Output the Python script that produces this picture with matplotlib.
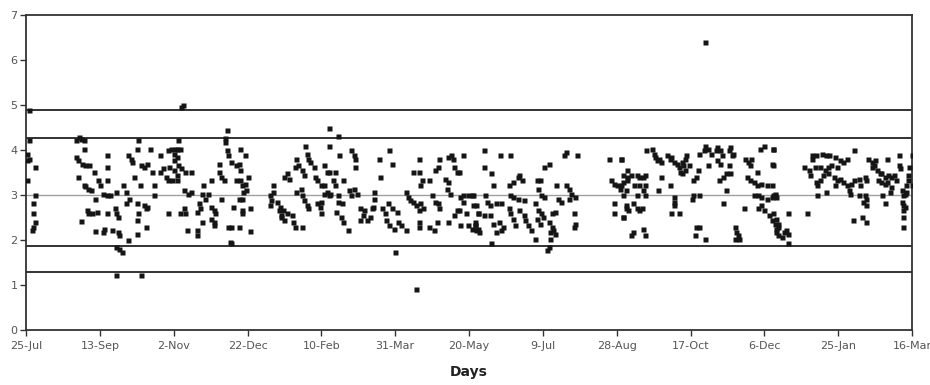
import matplotlib

matplotlib.use("Agg")
import matplotlib.pyplot as plt

# x = days since 25-Jul, y = measured value
# (day, value) pairs, read off the reference, grouped by period
jul_oct = [
    (2, 4.89), (2, 4.22), (1, 3.92), (2, 3.81), (0.5, 3.77), (6, 3.63), (1, 3.33),
    (6, 2.99), (5, 2.81), (5, 2.59), (6, 2.4), (5, 2.29), (4, 2.21),
    (36, 4.29), (37, 4.25), (34, 4.22), (39, 4.22), (39, 4.02), (34, 3.85), (35, 3.77),
    (38, 3.7), (40, 3.66), (43, 3.66), (35, 3.4), (46, 3.51), (39, 3.23), (40, 3.2),
    (42, 3.14), (44, 3.1), (49, 3.33), (50, 3.22), (47, 2.92), (52, 3.03), (55, 2.99),
    (57, 3.0), (61, 3.07), (55, 3.89), (55, 3.63), (55, 3.33), (41, 2.66), (42, 2.59),
    (37, 2.41), (45, 2.59), (48, 2.62), (55, 2.59), (60, 2.7), (61, 2.59), (62, 2.51),
    (47, 2.19), (52, 2.18), (53, 2.24), (58, 2.21), (62, 2.18), (63, 2.1), (69, 1.99),
    (75, 2.12), (61, 1.84), (63, 1.79), (65, 1.73), (61, 1.21), (78, 1.21), (66, 3.22),
    (68, 3.07), (69, 3.9), (71, 3.81), (72, 3.74), (73, 3.4), (68, 2.81), (70, 2.92),
    (75, 2.81), (76, 2.59), (75, 2.44), (77, 3.22), (76, 4.22), (75, 4.03), (78, 3.66),
    (80, 3.63), (82, 3.7), (80, 2.77), (82, 2.73), (81, 2.7), (81, 2.29), (84, 4.03),
    (85, 3.51), (87, 3.22), (87, 2.99), (91, 3.89), (91, 3.51), (93, 3.59), (95, 3.4),
    (96, 3.33), (96, 4.0), (98, 4.03), (100, 3.92), (101, 4.03), (97, 3.63), (100, 3.55),
    (102, 3.44), (102, 3.33), (96, 2.59), (104, 2.59),
]
nov_feb = [
    (105, 4.95), (106, 5.0), (103, 4.22), (102, 4.03), (104, 4.03), (102, 3.85),
    (100, 3.77), (103, 3.66), (105, 3.59), (108, 3.51), (112, 3.51), (99, 3.33),
    (107, 3.1), (110, 3.03), (112, 3.07), (120, 3.22), (125, 3.33), (119, 3.03),
    (121, 2.92), (123, 3.03), (117, 2.81), (118, 2.7), (116, 2.62), (107, 2.7),
    (108, 2.59), (109, 2.21), (116, 2.21), (116, 2.1), (119, 2.4), (125, 2.47),
    (127, 2.4), (127, 2.33), (125, 2.73), (127, 2.66), (128, 2.59), (131, 3.7),
    (131, 3.51), (132, 3.4), (132, 2.92), (136, 4.44), (135, 4.26), (135, 4.18),
    (136, 4.0), (137, 3.89), (134, 3.33), (139, 3.74), (142, 3.66), (144, 3.7),
    (145, 3.55), (145, 4.03), (148, 3.89), (142, 3.33), (145, 3.33), (146, 3.22),
    (148, 3.25), (147, 3.07), (149, 3.1), (144, 2.92), (146, 2.92), (140, 2.73),
    (146, 2.66), (152, 2.7), (146, 2.59), (137, 2.29), (139, 2.29), (144, 2.29),
    (152, 2.19), (138, 1.95), (139, 1.92), (150, 3.4),
    (165, 2.99), (166, 2.88), (167, 3.07), (165, 2.77), (167, 3.22), (170, 2.85),
    (172, 2.73), (171, 2.66), (174, 2.66), (173, 2.51), (173, 2.55), (175, 2.44),
    (177, 2.59), (180, 2.55), (181, 2.4), (182, 2.29), (187, 2.29), (178, 3.36),
    (177, 3.48), (182, 3.63), (175, 3.4), (183, 3.81), (184, 3.66), (187, 3.55),
    (188, 3.44), (189, 4.1), (190, 3.92), (191, 3.81), (192, 3.74), (195, 3.63),
    (196, 3.4), (197, 3.33), (183, 3.07), (186, 3.14), (187, 2.99), (188, 2.88),
    (190, 2.77), (191, 2.7), (197, 2.81), (199, 2.73), (200, 2.59), (202, 3.22),
    (204, 3.07), (205, 2.99), (204, 3.51), (205, 4.48), (205, 4.1),
]
feb_may = [
    (211, 4.32), (212, 3.9), (202, 3.66), (205, 3.51), (209, 3.51), (208, 3.33),
    (215, 3.33), (209, 3.22), (220, 4.0), (222, 3.89), (223, 3.81), (223, 3.63),
    (200, 3.22), (202, 3.03), (200, 2.85), (206, 3.03), (211, 2.99), (219, 3.1),
    (222, 3.14), (224, 3.03), (220, 2.99), (211, 2.85), (214, 2.81), (210, 2.62),
    (213, 2.51), (215, 2.4), (218, 2.21), (226, 2.7), (229, 2.66), (228, 2.55),
    (226, 2.44), (231, 2.44), (233, 2.51), (236, 3.07), (236, 2.92), (235, 2.73),
    (234, 2.7), (239, 3.81), (246, 4.0), (248, 3.7), (240, 3.4), (241, 2.7),
    (243, 2.59), (244, 2.44), (246, 2.33), (249, 2.25), (245, 2.81), (248, 2.7),
    (251, 2.62), (252, 2.4), (254, 2.33), (257, 2.21), (250, 1.73), (264, 0.91),
    (257, 3.07), (259, 2.96), (260, 2.88), (262, 3.51), (262, 2.85), (264, 2.77),
    (266, 2.66), (267, 2.81), (269, 2.7), (266, 3.81), (266, 3.51), (268, 3.33),
    (267, 3.22), (266, 2.4), (266, 2.29), (273, 3.33), (277, 3.55), (279, 3.63),
    (280, 3.81), (286, 3.85), (275, 2.99), (277, 2.85), (279, 2.81), (280, 2.7),
    (273, 2.29), (276, 2.21), (278, 2.4), (284, 3.36), (286, 3.29), (285, 3.14),
    (287, 3.03), (288, 3.89), (289, 3.81), (290, 3.63), (292, 3.51), (296, 3.89),
    (293, 3.51), (286, 2.4), (290, 2.55), (292, 2.66), (294, 2.96), (296, 2.99),
    (299, 2.99), (303, 2.99), (296, 2.85), (298, 2.59), (299, 2.33), (302, 2.25),
    (304, 2.33), (293, 2.66), (294, 2.33), (306, 2.59), (305, 2.77),
]
may_sep = [
    (302, 2.99), (303, 2.77), (304, 2.33), (306, 2.25), (307, 2.18), (305, 2.21),
    (304, 2.4), (310, 4.0), (310, 3.63), (315, 3.48), (316, 3.22), (311, 2.99),
    (312, 2.85), (314, 2.77), (318, 2.81), (306, 2.59), (310, 2.55), (314, 2.55),
    (316, 2.36), (320, 2.4), (318, 2.18), (322, 2.21), (323, 2.29), (315, 1.92),
    (321, 3.89), (328, 3.89), (322, 2.81), (327, 3.22), (330, 3.29), (333, 3.4),
    (336, 3.33), (334, 3.44), (328, 2.99), (330, 2.96), (333, 2.92), (337, 2.88),
    (327, 2.7), (328, 2.59), (330, 2.47), (334, 2.66), (337, 2.55), (338, 2.44),
    (331, 2.33), (340, 2.33), (342, 2.21), (345, 2.03), (346, 3.33), (348, 3.33),
    (347, 3.14), (349, 2.99), (351, 2.96), (345, 2.81), (347, 2.66), (349, 2.59),
    (350, 2.51), (346, 2.47), (348, 2.36), (351, 3.63), (354, 3.7), (354, 2.4),
    (356, 2.29), (355, 2.18), (357, 2.21), (358, 2.14), (355, 2.03), (354, 1.84),
    (353, 1.77), (356, 2.59), (358, 2.62), (359, 3.22), (360, 2.92), (362, 2.85),
    (364, 3.89), (366, 3.96), (373, 3.89), (366, 3.22), (368, 3.14), (369, 3.03),
    (372, 2.96), (368, 2.92), (371, 2.59), (372, 2.36), (371, 2.29),
    (395, 3.81), (403, 3.81), (396, 3.33), (398, 3.25), (400, 3.22), (402, 3.14),
    (404, 3.29), (407, 3.4), (407, 3.55), (398, 2.81), (398, 2.59), (404, 2.51),
    (404, 2.99), (406, 2.7),
]
sep_dec = [
    (403, 3.81), (404, 3.44), (403, 3.22), (406, 3.1), (407, 3.33), (406, 2.77),
    (404, 2.51), (408, 2.66), (410, 3.44), (414, 3.44), (415, 3.4), (418, 3.4),
    (419, 3.44), (412, 3.22), (415, 3.22), (419, 3.22), (418, 3.1), (414, 2.99),
    (419, 2.99), (411, 2.81), (414, 2.7), (415, 2.66), (417, 2.7), (411, 2.18),
    (410, 2.1), (418, 2.25), (419, 2.1), (420, 4.0), (424, 4.03), (425, 3.92),
    (426, 3.85), (427, 3.77), (429, 3.81), (430, 3.74), (430, 3.4), (428, 3.1),
    (436, 3.22), (434, 3.89), (436, 3.81), (437, 3.85), (439, 3.74), (441, 3.7),
    (442, 3.63), (444, 3.74), (445, 3.66), (446, 3.81), (447, 3.89), (439, 2.96),
    (439, 2.85), (439, 2.77), (437, 2.59), (442, 2.59), (443, 3.51), (444, 3.48),
    (446, 3.55), (449, 3.66), (451, 2.92), (452, 2.99), (452, 3.33), (454, 3.4),
    (456, 2.99), (455, 3.55), (454, 2.29), (456, 2.29), (453, 2.1), (460, 2.03),
    (456, 3.92), (459, 4.0), (460, 4.1), (462, 4.03), (464, 3.92), (467, 4.0),
    (468, 4.07), (470, 4.0), (471, 3.89), (476, 4.0), (477, 4.07), (478, 3.89),
    (479, 3.92), (462, 3.66), (468, 3.77), (470, 3.7), (476, 3.66), (469, 3.33),
    (472, 3.4), (474, 3.48), (477, 3.48), (474, 3.1), (472, 2.81), (480, 2.29),
    (481, 2.18), (482, 2.1), (480, 2.03), (483, 2.03), (486, 2.7), (487, 3.81),
    (489, 3.74), (490, 3.66), (491, 3.81), (488, 3.4), (490, 3.33), (493, 3.29),
    (495, 3.22), (498, 3.25), (502, 3.22), (493, 2.99), (496, 2.99), (498, 2.96),
    (502, 2.92), (505, 2.96), (507, 2.99), (495, 3.51), (505, 3.7), (506, 4.03),
    (500, 4.1), (497, 4.03), (496, 2.7), (498, 2.77), (500, 2.66), (503, 2.55),
    (505, 2.44), (507, 2.36), (508, 2.25), (509, 2.1), (460, 6.41),
]
dec_mar = [
    (506, 4.03), (506, 3.66), (505, 3.22), (506, 2.99), (507, 3.03), (508, 2.96),
    (506, 2.59), (508, 2.47), (509, 2.36), (509, 2.29), (508, 2.18), (513, 2.18),
    (515, 2.21), (516, 2.14), (512, 2.07), (516, 1.92), (516, 2.59), (529, 2.59),
    (532, 3.89), (532, 3.81), (535, 3.89), (539, 3.92), (542, 3.89), (544, 3.89),
    (548, 3.85), (527, 3.63), (530, 3.55), (531, 3.44), (534, 3.63), (538, 3.63),
    (541, 3.55), (543, 3.63), (545, 3.66), (549, 3.63), (551, 3.77), (553, 3.74),
    (556, 3.81), (561, 4.0), (535, 3.29), (538, 3.33), (536, 3.22), (542, 3.07),
    (536, 2.99), (540, 3.44), (543, 3.48), (547, 3.4), (549, 3.33), (551, 3.36),
    (553, 3.29), (556, 3.22), (557, 3.1), (559, 3.25), (561, 3.33), (564, 3.36),
    (565, 3.22), (548, 3.22), (558, 3.03), (564, 2.99), (568, 3.4), (569, 3.33),
    (568, 2.99), (569, 2.92), (567, 2.85), (569, 2.77), (560, 2.44), (566, 2.51),
    (569, 2.4), (570, 3.81), (573, 3.74), (573, 3.63), (576, 3.55), (578, 3.48),
    (575, 3.77), (574, 3.66), (579, 3.48), (582, 3.4), (584, 3.44), (586, 3.4),
    (588, 3.44), (577, 3.33), (579, 3.29), (583, 3.29), (582, 3.25), (586, 3.18),
    (583, 3.81), (591, 3.89), (591, 3.66), (592, 3.59), (580, 2.99), (582, 2.81),
    (585, 3.07), (589, 3.33), (593, 3.1), (594, 2.99), (595, 3.03), (596, 3.07),
    (593, 2.85), (594, 2.77), (595, 2.73), (594, 2.66), (594, 2.51), (594, 2.29),
    (596, 3.22), (597, 3.33), (597, 3.44), (598, 3.63), (600, 3.89), (600, 3.22),
]

# control lines: outer limits, inner limits, centre line
upper_limits = [4.89, 4.27]
lower_limits = [1.86, 1.28]
centre_line = 3.0

tick_days = list(range(0, 601, 50))
tick_labels = ["25-Jul", "13-Sep", "2-Nov", "22-Dec", "10-Feb", "31-Mar", "20-May",
               "9-Jul", "28-Aug", "17-Oct", "6-Dec", "25-Jan", "16-Mar"]

points = jul_oct + nov_feb + feb_may + may_sep + sep_dec + dec_mar
days = [p[0] for p in points]
values = [p[1] for p in points]

fig = plt.figure(figsize=(9.3, 3.85), dpi=100)
ax = fig.add_axes([26 / 930, 1 - 329.7 / 385, 886 / 930, 314.4 / 385])

for lim in upper_limits + lower_limits:
    ax.axhline(lim, color="#222222", lw=1.3, zorder=1)
ax.axhline(centre_line, color="#a0a0a0", lw=1.0, zorder=1)

ax.plot(days, values, "s", ms=3.6, color="#151515", mec="none", zorder=3)

ax.set_xlim(0, 600)
ax.set_ylim(0, 7)
ax.set_xticks(tick_days)
ax.set_xticklabels(tick_labels)
ax.set_yticks(range(0, 8))

for s in ax.spines.values():
    s.set_color("#333333")
    s.set_linewidth(1.3)

ax.tick_params(axis="both", direction="out", length=4, width=1.0,
               color="#333333", labelsize=8, labelcolor="#555555")
ax.tick_params(axis="y", pad=2)
ax.tick_params(axis="x", pad=4)
ax.set_xlabel("Days", fontsize=10, fontweight="bold", color="#222222", labelpad=10)

fig.savefig("out.png", dpi=100)
plt.close(fig)
